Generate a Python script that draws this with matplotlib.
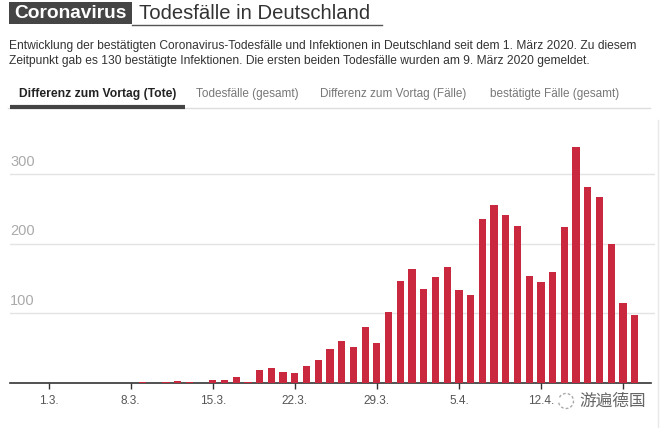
import numpy as np
import matplotlib
matplotlib.use("Agg")
import matplotlib.pyplot as plt
from matplotlib.patches import Rectangle, Arc
from matplotlib.lines import Line2D

# daily new deaths, 1 March .. 20 April 2020
deaths = [0, 0, 0, 0, 0, 0, 0, 0,
          2, 0, 1, 3, 2, 0, 5, 5, 9, 2, 18, 22, 16, 15, 25, 33, 49,
          61, 52, 81, 58, 102, 147,
          164, 135, 152, 167, 134, 127, 236, 256, 242, 226, 153, 145,
          160, 224, 339, 282, 267, 200, 115, 98]
tick_days = [0, 7, 14, 21, 28, 35, 42, 49]
# last label (19.4.) is hidden under the watermark in the original
tick_labels = ["1.3.", "8.3.", "15.3.", "22.3.", "29.3.", "5.4.", "12.4.", ""]
y_levels = [100, 200, 300]
tabs = ["Differenz zum Vortag (Tote)", "Todesfälle (gesamt)",
        "Differenz zum Vortag (Fälle)", "bestätigte Fälle (gesamt)"]

plt.rcParams['font.family'] = ['Liberation Sans', 'Noto Sans CJK SC', 'DejaVu Sans']

W, H = 666, 428
fig = plt.figure(figsize=(W / 100, H / 100), dpi=100)


def fy(px):
    return 1 - px / H


def fx(px):
    return px / W


# header
fig.patches.append(Rectangle((fx(9), fy(24)), fx(123), 22 / H, transform=fig.transFigure,
                             facecolor="#454545", edgecolor="none"))
fig.text(fx(70.5), fy(13.5), "Coronavirus", color="white", fontsize=13.8, fontweight="bold",
         ha="center", va="center")
fig.text(fx(139), fy(13.5), "Todesfälle in Deutschland", color="#333333", fontsize=14.6,
         ha="left", va="center")
fig.lines.append(Line2D([fx(132), fx(382)], [fy(24.5), fy(24.5)], transform=fig.transFigure,
                        color="#555555", lw=1))

fig.text(fx(9), fy(46), "Entwicklung der bestätigten Coronavirus-Todesfälle und Infektionen in "
         "Deutschland seit dem 1. März 2020. Zu diesem", color="#333333", fontsize=8.65,
         ha="left", va="center")
fig.text(fx(9), fy(61), "Zeitpunkt gab es 130 bestätigte Infektionen. Die ersten beiden "
         "Todesfälle wurden am 9. März 2020 gemeldet.", color="#333333", fontsize=8.65,
         ha="left", va="center")

# tabs
tab_x = [19, 196, 320, 490]
for i, (t, x) in enumerate(zip(tabs, tab_x)):
    fig.text(fx(x), fy(94), t, fontsize=8.7 if i == 0 else 8.5, ha="left", va="center",
             color="#222222" if i == 0 else "#777777",
             fontweight="bold" if i == 0 else "normal")
fig.lines.append(Line2D([fx(8), fx(650)], [fy(107.5), fy(107.5)], transform=fig.transFigure,
                        color="#dddddd", lw=1))
fig.lines.append(Line2D([fx(10), fx(185)], [fy(107), fy(107)], transform=fig.transFigure,
                        color="#444444", lw=3, solid_capstyle="butt"))

# chart
ax = fig.add_axes([fx(10), 45 / H, fx(645), 243 / H])
x = np.arange(len(deaths))
ax.bar(x, deaths, width=0.62, color="#c9283e", zorder=3)
ax.set_xlim(-3.3, 51.73)
ax.set_ylim(0, 349)

for v in y_levels:
    ax.axhline(v, color="#e3e3e3", lw=1, zorder=1)
    ax.annotate(str(v), xy=(0, v), xycoords=("axes fraction", "data"),
                xytext=(0, 4), textcoords="offset points", ha="left", va="bottom",
                color="#aaaaaa", fontsize=10.5)

for s in ["top", "right", "left"]:
    ax.spines[s].set_visible(False)
ax.spines["bottom"].set_color("#333333")
ax.spines["bottom"].set_linewidth(1.2)
ax.spines["bottom"].set_bounds(-3.3, 51.4)
ax.set_yticks([])
ax.set_xticks(tick_days)
ax.set_xticklabels(tick_labels, fontsize=8.5, color="#555555")
ax.tick_params(axis="x", length=4, width=1, color="#333333", pad=5)

# right page border
fig.lines.append(Line2D([fx(658), fx(658)], [fy(120), fy(428)], transform=fig.transFigure,
                        color="#e8e8e8", lw=1))

# watermark
fig.text(fx(579), fy(401), "游遍德国", fontsize=12, color="#666666", ha="left", va="center",
         family=['Noto Sans CJK SC', 'DejaVu Sans'])
fig.patches.append(Arc((fx(566), fy(401)), 15 / W, 15 / H, theta1=200, theta2=520,
                       transform=fig.transFigure, color="#aaaaaa", lw=1, ls=(0, (2, 1.5))))

fig.savefig("out.png", dpi=100)
